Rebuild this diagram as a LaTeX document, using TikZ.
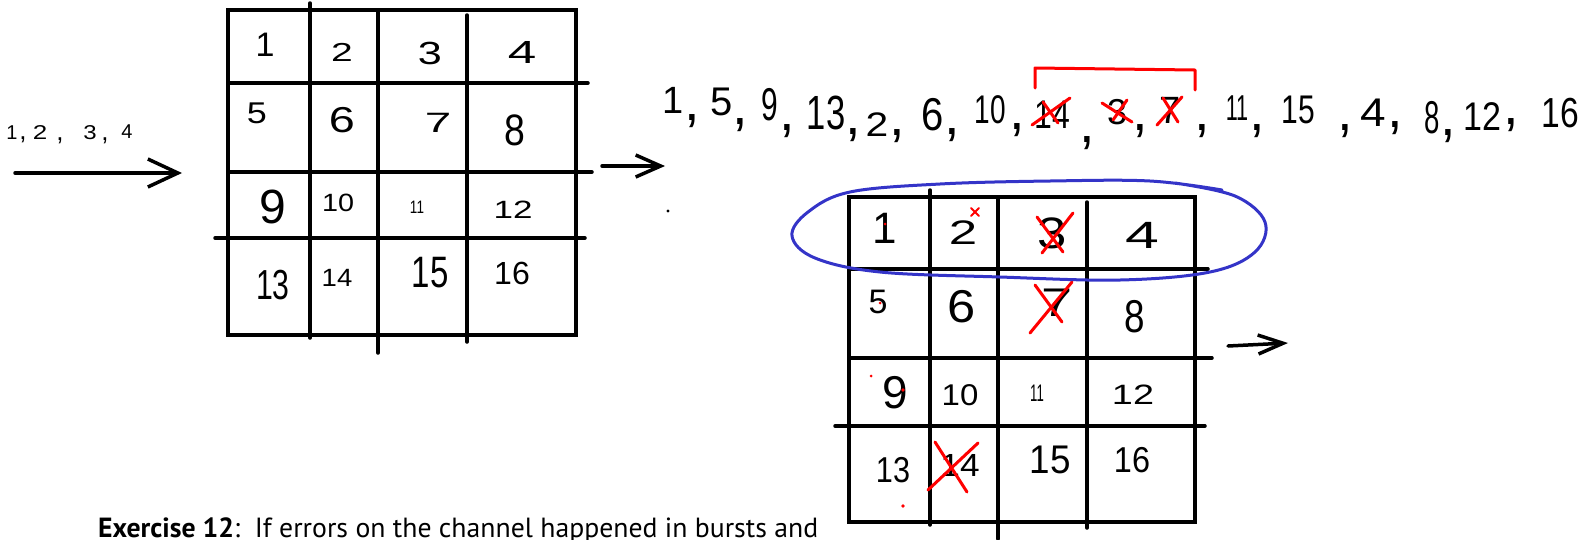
\documentclass[tikz,border=0pt]{standalone}
\usepackage{fontspec}
\usepackage{graphicx}
\usetikzlibrary{arrows.meta}
\newfontfamily\hw{Liberation Sans}
\newfontfamily\bodyfont{PT Sans}
\newcommand{\sq}[2]{\scalebox{#1}[1]{#2}}
\definecolor{inkred}{RGB}{255,0,0}
\definecolor{inkblue}{RGB}{52,52,200}
\tikzset{
  gridline/.style={line width=3.5pt, line cap=round},
  digit/.style={font=\hw\fontsize{#1}{#1}\selectfont, inner sep=0pt},
  comma/.style={font=\hw\fontsize{#1}{#1}\selectfont, inner sep=0pt},
  cross/.style={inkred, line width=3pt, line cap=round},
  arr/.style={line width=3.5pt, line cap=round, line join=round},
  reddot/.style={fill=inkred, draw=none},
}
\begin{document}
\begin{tikzpicture}[x=1pt,y=-1pt]
\useasboundingbox (0,0) rectangle (1584,539);
\fill[white] (0,0) rectangle (1584,539);

% ---------- input arrow ----------
\node[digit=20] (l1) at (12,133) {1};
\node[comma=26] (lc1) at (23,140) {,};
\node[digit=20] (l2) at (40,133) {\sq{1.3}{2}};
\node[comma=26] (lc2) at (60,141) {,};
\node[digit=20] (l3) at (90,133) {\sq{1.2}{3}};
\node[comma=26] (lc3) at (105,141) {,};
\node[digit=20] (l4) at (127,132) {4};
\coordinate (inA) at (15,173);
\coordinate (inB) at (182,173);
\draw[arr,-{Straight Barb[length=30pt,width=28pt]}] (inA) -- (inB);

% ---------- grid 1 ----------
\draw[gridline] (228,10) rectangle (576,335);
\draw[gridline] (310,3) -- (310,338);
\draw[gridline] (378,10) -- (378,353);
\draw[gridline] (467,15) -- (467,342);
\draw[gridline] (228,83) -- (588,83);
\draw[gridline] (228,172) -- (592,172);
\draw[gridline] (215,238) -- (585,238);

\node[digit=34] (a1) at (265,45) {1};
\node[digit=26] (a2) at (342,52) {\sq{1.5}{2}};
\node[digit=32] (a3) at (430,53) {\sq{1.35}{3}};
\node[digit=32] (a4) at (522,52) {\sq{1.6}{4}};
\node[digit=30] (a5) at (257,113) {\sq{1.2}{5}};
\node[digit=36] (a6) at (342,120) {\sq{1.3}{6}};
\node[digit=28] (a7) at (438,123) {\sq{1.7}{7}};
\node[digit=44] (a8) at (515,130) {\sq{0.85}{8}};
\node[digit=48] (a9) at (273,207) {9};
\node[digit=25] (a10) at (338,203) {\sq{1.15}{10}};
\node[digit=18] (a11) at (417,207) {\sq{0.75}{11}};
\node[digit=25] (a12) at (513,210) {\sq{1.4}{12}};
\node[digit=42] (a13) at (273,285) {\sq{0.72}{13}};
\node[digit=25] (a14) at (337,278) {\sq{1.1}{14}};
\node[digit=44] (a15) at (430,273) {\sq{0.75}{15}};
\node[digit=32] (a16) at (512,273) {16};

% ---------- middle arrow ----------
\coordinate (mA) at (602,166);
\coordinate (mB) at (665,166);
\draw[arr,-{Straight Barb[length=25pt,width=22pt]}] (mA) -- (mB);
\fill (668,211) circle (1.6);

% ---------- sequence ----------
\node[digit=38] (s1) at (673,100) {1};
\node[comma=56] (c1) at (692,121) {,};
\node[digit=40] (s5) at (722,102) {5};
\node[comma=56] (c2) at (740,125) {,};
\node[digit=46] (s9) at (770,105) {\sq{0.65}{9}};
\node[comma=56] (c3) at (787,131) {,};
\node[digit=48] (s13) at (826,113) {\sq{0.72}{13}};
\node[comma=56] (c4) at (853,135) {,};
\node[digit=34] (s2) at (877,125) {\sq{1.2}{2}};
\node[comma=56] (c5) at (897,136) {,};
\node[digit=46] (s6) at (933,115) {\sq{0.87}{6}};
\node[comma=56] (c6) at (952,135) {,};
\node[digit=40] (s10) at (990,110) {\sq{0.7}{10}};
\node[comma=56] (c7) at (1017,130) {,};
\node[digit=40] (s14) at (1052,115) {\sq{0.8}{14}};
\node[comma=56] (c8) at (1087,143) {,};
\node[digit=36] (s3) at (1117,112) {3};
\node[comma=56] (c9) at (1140,131) {,};
\node[digit=38] (s7) at (1170,110) {7};
\node[comma=56] (c10) at (1202,131) {,};
\node[digit=36] (s11) at (1237,108) {\sq{0.6}{11}};
\node[comma=56] (c11) at (1257,131) {,};
\node[digit=40] (s15) at (1298,110) {\sq{0.75}{15}};
\node[comma=56] (c12) at (1345,131) {,};
\node[digit=40] (s4) at (1373,113) {\sq{1.15}{4}};
\node[comma=56] (c13) at (1395,128) {,};
\node[digit=46] (s8) at (1432,118) {\sq{0.6}{8}};
\node[comma=56] (c14) at (1448,136) {,};
\node[digit=40] (s12) at (1482,117) {\sq{0.85}{12}};
\node[comma=56] (c15) at (1511,125) {,};
\node[digit=42] (s16) at (1560,113) {\sq{0.8}{16}};

% crosses in sequence
\draw[cross] (1032,125) -- (1070,98);
\draw[cross] (1043,102) -- (1058,123);
\draw[cross] (1102,103) -- (1132,122);
\draw[cross] (1127,100) -- (1113,120);
\draw[cross] (1157,125) -- (1182,97);
\draw[cross] (1163,98) -- (1178,122);
% bracket
\draw[cross, line join=round] (1035,88) -- (1035,68) -- (1195,70) -- (1195,90);

% ---------- grid 2 ----------
\draw[gridline] (849,197) rectangle (1195,522);
\draw[gridline] (930,190) -- (930,525);
\draw[gridline] (998,197) -- (998,539);
\draw[gridline] (1087,202) -- (1087,528);
\draw[gridline] (849,269) -- (1208,269);
\draw[gridline] (849,358) -- (1212,358);
\draw[gridline] (835,426) -- (1205,426);

\node[digit=44] (b1) at (885,228) {1};
\node[digit=34] (b2) at (963,233) {\sq{1.5}{2}};
\node[digit=44] (b3) at (1052,233) {\sq{1.2}{3}};
\node[digit=38] (b4) at (1142,235) {\sq{1.6}{4}};
\node[digit=34] (b5) at (878,302) {5};
\node[digit=46] (b6) at (962,307) {\sq{1.1}{6}};
\node[digit=40] (b7) at (1057,303) {\sq{1.4}{7}};
\node[digit=46] (b8) at (1135,317) {\sq{0.8}{8}};
\node[digit=46] (b9) at (895,393) {9};
\node[digit=30] (b10) at (960,395) {\sq{1.1}{10}};
\node[digit=24] (b11) at (1037,393) {\sq{0.55}{11}};
\node[digit=28] (b12) at (1133,395) {\sq{1.35}{12}};
\node[digit=36] (b13) at (893,470) {\sq{0.85}{13}};
\node[digit=32] (b14) at (960,465) {\sq{1.1}{14}};
\node[digit=40] (b15) at (1050,460) {\sq{0.92}{15}};
\node[digit=36] (b16) at (1132,460) {\sq{0.9}{16}};

% red marks grid 2
\draw[cross] (1037,217) -- (1063,252);
\draw[cross] (1073,213) -- (1042,253);
\draw[cross] (1035,285) -- (1062,322);
\draw[cross] (1072,282) -- (1030,333);
\draw[cross] (935,442) -- (967,492);
\draw[cross] (978,443) -- (928,490);
\draw[cross, line width=2pt] (971,208) -- (979,216);
\draw[cross, line width=2pt] (979,208) -- (971,216);
\fill[reddot] (885,224) circle (1.5);
\fill[reddot] (880,303) circle (1.5);
\fill[reddot] (871,376) circle (1.5);
\fill[reddot] (903,390) circle (1.8);
\fill[reddot] (903,506) circle (1.8);

% blue loop
\draw[inkblue, line width=3pt, line cap=round, line join=round]
  plot[smooth, tension=0.6] coordinates {(1175,183) (1235,196) (1265,222) (1255,252) (1210,272) (1120,280) (1000,277) (880,272) (815,258) (792,236) (808,212) (850,192) (940,184) (1050,181) (1150,181) (1222,190)};

% right arrow
\coordinate (rA) at (1228,346);
\coordinate (rB) at (1288,343);
\draw[arr,-{Straight Barb[length=25pt,width=19pt]}] (rA) -- (rB);

% ---------- caption ----------
\node[anchor=base west, inner sep=0pt] (cap) at (98,537)
  {\resizebox{720pt}{!}{\bodyfont\fontsize{33}{36}\selectfont\textbf{Exercise 12}:\ \ If errors on the channel happened in bursts and}};
\end{tikzpicture}
\end{document}
